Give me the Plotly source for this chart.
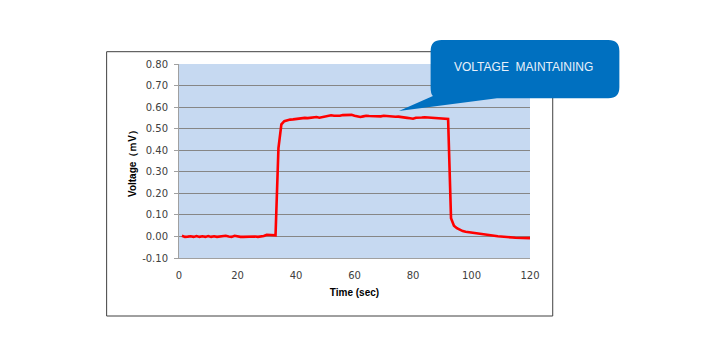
import plotly.graph_objects as go

# ---- data ----
time_sec = list(range(1, 121))
voltage_mv = [
    0.003, -0.002, -0.001, 0.001, -0.002, 0.002, -0.002, 0.001, -0.002, 0.002,
    -0.002, 0.001, -0.002, -0.001, 0.002, 0.003, 0.000, -0.002, 0.003, -0.001,
    -0.002, -0.002, -0.001, -0.002, -0.001, 0.000, -0.002, 0.000, 0.002, 0.008,
    0.008, 0.007, 0.005, 0.410, 0.520, 0.535, 0.540, 0.542, 0.543, 0.545,
    0.548, 0.550, 0.550, 0.549, 0.551, 0.555, 0.554, 0.551, 0.553, 0.556,
    0.557, 0.562, 0.560, 0.559, 0.560, 0.563, 0.563, 0.562, 0.564, 0.560,
    0.556, 0.554, 0.557, 0.560, 0.559, 0.558, 0.556, 0.555, 0.557, 0.560,
    0.558, 0.557, 0.556, 0.555, 0.556, 0.553, 0.552, 0.550, 0.548, 0.546,
    0.551, 0.550, 0.552, 0.553, 0.552, 0.550, 0.549, 0.548, 0.546, 0.545,
    0.547, 0.545, 0.085, 0.050, 0.038, 0.031, 0.025, 0.022, 0.020, 0.017,
    0.014, 0.012, 0.010, 0.009, 0.007, 0.006, 0.004, 0.003, 0.001, 0.000,
    -0.002, -0.003, -0.004, -0.005, -0.006, -0.007, -0.007, -0.008, -0.008, -0.008,
]
x_ticks = [0, 20, 40, 60, 80, 100, 120]
y_ticks = [-0.10, 0.00, 0.10, 0.20, 0.30, 0.40, 0.50, 0.60, 0.70, 0.80]
callout_text = "VOLTAGE  MAINTAINING"
x_title = "Time (sec)"
y_title = "Voltage（ｍV）"

# ---- layout geometry (page pixels; page body has an 8px margin) ----
OFF = 8
W, H = 702 - OFF, 357 - OFF
PLOT_LEFT, PLOT_RIGHT, PLOT_TOP, PLOT_BOTTOM = 179.3, 530, 64, 258
L = PLOT_LEFT - OFF
T = PLOT_TOP - OFF
PW = PLOT_RIGHT - PLOT_LEFT
PH = PLOT_BOTTOM - PLOT_TOP
R = W - L - PW
B = H - T - PH


def px(x):
    return (x - PLOT_LEFT) / PW


def py(y):
    return (PLOT_BOTTOM - y) / PH


fig = go.Figure()
fig.add_trace(go.Scatter(
    x=time_sec, y=voltage_mv, mode="lines",
    line=dict(color="#ff0000", width=2.6), showlegend=False,
))

tick_font = dict(family="DejaVu Sans", size=10, color="#404040")
title_font = dict(family="Liberation Sans", size=10, color="#000000")

fig.update_layout(
    width=W, height=H,
    margin=dict(l=L, r=R, t=T, b=B, pad=0),
    paper_bgcolor="white",
    plot_bgcolor="#c6d9f1",
    showlegend=False,
    xaxis=dict(
        range=[0, 120], tickvals=x_ticks, ticktext=[str(v) for v in x_ticks],
        showgrid=False, zeroline=False, showline=True, linecolor="#a0a0a0", linewidth=1,
        ticks="", tickfont=tick_font, ticklabelstandoff=8,
        title=dict(text="<b>" + x_title + "</b>", font=title_font, standoff=8),
    ),
    yaxis=dict(
        range=[-0.1, 0.8], tickvals=y_ticks, ticktext=["%.2f" % v for v in y_ticks],
        showgrid=True, gridcolor="#868686", gridwidth=1, zeroline=False,
        showline=True, linecolor="#a0a0a0", linewidth=1,
        ticks="outside", ticklen=4, tickcolor="#a0a0a0", tickfont=tick_font,
        ticklabelstandoff=4,
        title=dict(text="<b>" + y_title + "</b>", font=title_font, standoff=3),
    ),
)

# outer chart frame
fig.add_shape(type="rect", xref="paper", yref="paper",
              x0=px(107), x1=px(552.7), y0=py(316), y1=py(51.7),
              line=dict(color="#404040", width=1), fillcolor="rgba(0,0,0,0)", layer="below")

# callout box (rounded) + tail
bx0, bx1, by0, by1, r = 430.7, 619.3, 40, 98.3, 11
path = (
    f"M {px(bx0 + r)} {py(by0)} L {px(bx1 - r)} {py(by0)} "
    f"Q {px(bx1)} {py(by0)} {px(bx1)} {py(by0 + r)} "
    f"L {px(bx1)} {py(by1 - r)} Q {px(bx1)} {py(by1)} {px(bx1 - r)} {py(by1)} "
    f"L {px(497)} {py(by1)} L {px(399)} {py(111)} L {px(433)} {py(96)} "
    f"Q {px(bx0)} {py(by1 - 4)} {px(bx0)} {py(by1 - r)} "
    f"L {px(bx0)} {py(by0 + r)} Q {px(bx0)} {py(by0)} {px(bx0 + r)} {py(by0)} Z"
)
fig.add_shape(type="path", xref="paper", yref="paper", path=path,
              fillcolor="#0070c0", line=dict(width=0), layer="above")

fig.add_annotation(xref="paper", yref="paper", x=px(524), y=py(67),
                   text=callout_text, showarrow=False,
                   font=dict(family="Liberation Sans", size=12, color="#e8f0fa"),
                   xanchor="center", yanchor="middle")

fig.write_html("out.html")
